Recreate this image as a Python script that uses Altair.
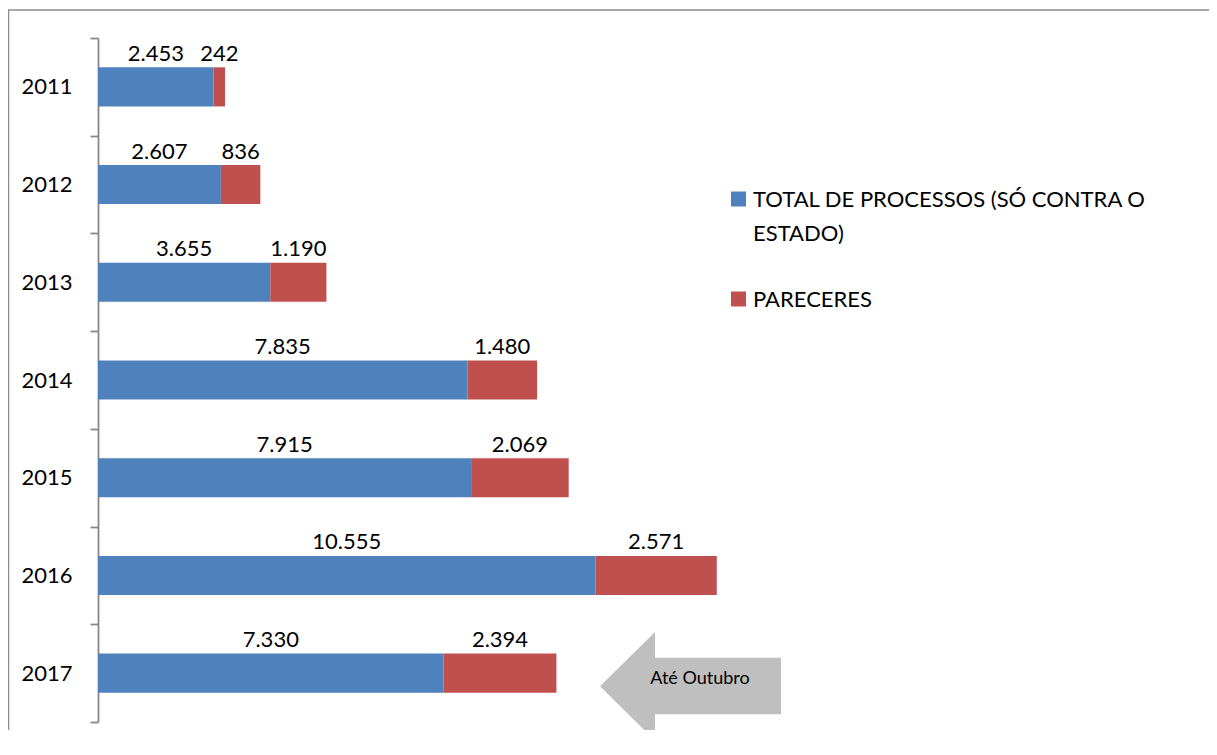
import altair as alt
import pandas as pd

# ---- data ----
years = ["2011", "2012", "2013", "2014", "2015", "2016", "2017"]
processos = [2453, 2607, 3655, 7835, 7915, 10555, 7330]
pareceres = [242, 836, 1190, 1480, 2069, 2571, 2394]
series = ["TOTAL DE PROCESSOS (SÓ CONTRA O ESTADO)", "PARECERES"]
colors = ["#4F81BD", "#C0504D"]
note_text = "Até Outubro"

FONT = "Lato"


def fmt(v):
    return f"{v:,}".replace(",", ".")


rows = []
for i, y in enumerate(years):
    rows.append({"ano": y, "serie": series[0], "ordem": 0, "valor": processos[i], "rotulo": fmt(processos[i])})
    rows.append({"ano": y, "serie": series[1], "ordem": 1, "valor": pareceres[i], "rotulo": fmt(pareceres[i])})
df = pd.DataFrame(rows)

one = alt.Data(values=[{"k": 1}])

base = alt.Chart(df).transform_stack(
    stack="valor", groupby=["ano"], sort=[alt.SortField("ordem")], as_=["x0", "x1"]
).transform_calculate(mid="(datum.x0 + datum.x1) / 2")

xscale = alt.Scale(domain=[0, 14000], nice=False, zero=True)
yscale = alt.Scale(domain=years, paddingInner=0, paddingOuter=0)

yaxis = alt.Axis(
    title=None,
    tickBand="extent",
    tickSize=8,
    tickColor="#868686",
    tickWidth=1.75,
    domainColor="#868686",
    domainWidth=1.75,
    labelFont=FONT,
    labelFontSize=22,
    labelColor="#000000",
    labelPadding=18,
    grid=False,
)

bars = base.mark_bar(height={"band": 0.4}).encode(
    x=alt.X("x0:Q", scale=xscale, axis=None),
    x2="x1:Q",
    y=alt.Y("ano:N", scale=yscale, axis=yaxis),
    color=alt.Color("serie:N", scale=alt.Scale(domain=series, range=colors), legend=None),
)

labels = base.mark_text(
    baseline="alphabetic", align="center", dy=-26, fontSize=22, font=FONT, color="#000000"
).encode(
    x=alt.X("mid:Q", scale=xscale, axis=None),
    y=alt.Y("ano:N", scale=yscale, axis=yaxis),
    text="rotulo:N",
)

# ---- frame (top and left edges visible in the reference) ----
frame_top = alt.Chart(one).mark_rule(color="#8C8C8C", strokeWidth=1.5).encode(
    x=alt.value(-90), x2=alt.value(1120), y=alt.value(-28)
)
frame_left = alt.Chart(one).mark_rule(color="#8C8C8C", strokeWidth=1.5).encode(
    x=alt.value(-89.5), y=alt.value(-28), y2=alt.value(720)
)

# ---- manual legend ----
leg_sq1 = alt.Chart(one).mark_square(size=225, filled=True, opacity=1, color=colors[0]).encode(
    x=alt.value(640.5), y=alt.value(161)
)
leg_sq2 = alt.Chart(one).mark_square(size=225, filled=True, opacity=1, color=colors[1]).encode(
    x=alt.value(640.5), y=alt.value(261)
)
leg_txt1 = alt.Chart(one).mark_text(
    text=list(series[0].rsplit(" ", 1)), align="left", baseline="alphabetic",
    lineHeight=34, fontSize=22, font=FONT, color="#000000"
).encode(x=alt.value(655), y=alt.value(169))
leg_txt2 = alt.Chart(one).mark_text(
    text=series[1], align="left", baseline="alphabetic",
    fontSize=22, font=FONT, color="#000000"
).encode(x=alt.value(655), y=alt.value(269))

# ---- arrow annotation ----
arrow_path = "M -1 0 L -0.392 -0.6 L -0.392 -0.316 L 1 -0.316 L 1 0.31 L -0.392 0.31 L -0.392 0.6 Z"
arrow = alt.Chart(one).mark_point(
    shape=arrow_path, size=181 * 181, filled=True, opacity=1, color="#BFBFBF", strokeWidth=0
).encode(x=alt.value(592.5), y=alt.value(648.3))
arrow_txt = alt.Chart(one).mark_text(
    text=note_text, align="center", baseline="middle", fontSize=18, font=FONT, color="#000000"
).encode(x=alt.value(602), y=alt.value(641))

chart = alt.layer(
    frame_top, frame_left, bars, labels, leg_sq1, leg_sq2, leg_txt1, leg_txt2, arrow, arrow_txt
).properties(
    width=660,
    height=684,
    autosize=alt.AutoSizeParams(type="none"),
    padding={"left": 90, "top": 30, "right": 451, "bottom": 8},
    background="#FFFFFF",
).configure_view(strokeWidth=0)

chart.save("out.html", embed_options={"renderer": "svg", "actions": False})
